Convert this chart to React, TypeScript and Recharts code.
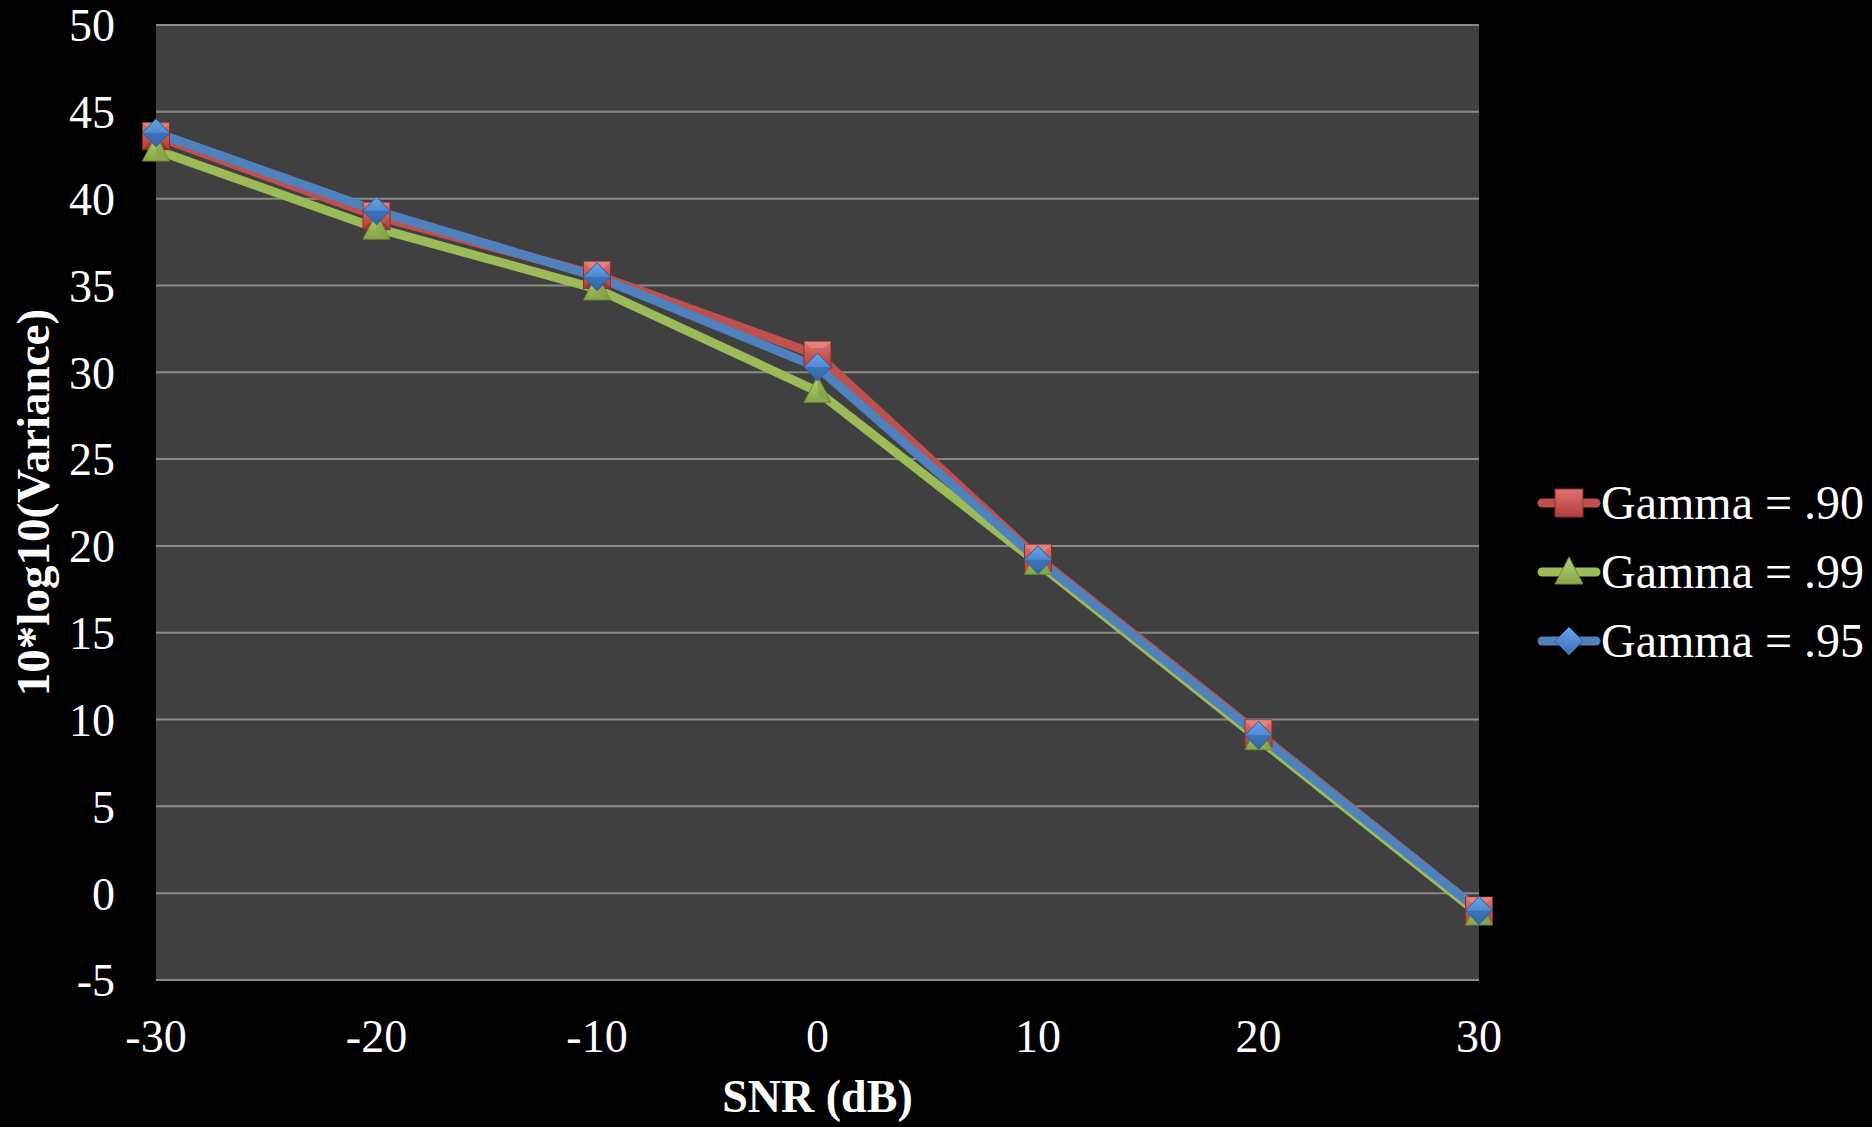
import React from 'react';
import { LineChart, Line, XAxis, YAxis, CartesianGrid, Label } from 'recharts';

const snr = [-30, -20, -10, 0, 10, 20, 30];
const gamma90 = [43.6, 39.0, 35.6, 31.0, 19.3, 9.2, -1.0];
const gamma99 = [42.8, 38.3, 34.8, 28.9, 19.0, 8.9, -1.2];
const gamma95 = [43.8, 39.3, 35.5, 30.3, 19.2, 9.1, -1.0];
const xTicks = [-30, -20, -10, 0, 10, 20, 30];
const yTicks = [-5, 0, 5, 10, 15, 20, 25, 30, 35, 40, 45, 50];

const data = snr.map((x, i) => ({
  snr: x,
  g90: gamma90[i],
  g99: gamma99[i],
  g95: gamma95[i],
}));

const FONT = '"Liberation Serif", "Times New Roman", serif';
const RED = '#c0504d';
const GREEN = '#9bbb59';
const BLUE = '#4f81bd';

type Shape = 'square' | 'triangle' | 'diamond';

const Marker = ({ cx, cy, shape }: { cx: number; cy: number; shape: Shape }) => {
  const s = 13.5;
  if (shape === 'square') {
    return (
      <g>
        <rect x={cx - s} y={cy - s} width={2 * s} height={2 * s} fill="url(#gRed)" stroke="#8c2f2c" strokeWidth={1} />
        <polygon points={`${cx - s},${cy - s} ${cx + s},${cy - s} ${cx + 7},${cy - 7} ${cx - 7},${cy - 7}`} fill="#e58a88" opacity={0.7} />
        <polygon points={`${cx - s},${cy + s} ${cx + s},${cy + s} ${cx + 7},${cy + 7} ${cx - 7},${cy + 7}`} fill="#8e2a28" opacity={0.6} />
      </g>
    );
  }
  if (shape === 'triangle') {
    return (
      <g>
        <polygon points={`${cx},${cy - 15} ${cx + s},${cy + 11} ${cx - s},${cy + 11}`} fill="url(#gGreen)" stroke="#6f8a3a" strokeWidth={1} />
        <polygon points={`${cx},${cy - 15} ${cx + s},${cy + 11} ${cx},${cy + 4}`} fill="#7d9a43" opacity={0.5} />
      </g>
    );
  }
  return (
    <g>
      <polygon points={`${cx},${cy - 14} ${cx + s},${cy} ${cx},${cy + 14} ${cx - s},${cy}`} fill="url(#gBlue)" stroke="#2f5d96" strokeWidth={1} />
      <polygon points={`${cx - s},${cy} ${cx + s},${cy} ${cx},${cy + 14}`} fill="#2e62a6" opacity={0.55} />
    </g>
  );
};

const makeDot = (shape: Shape) => (props: any) => {
  const { cx, cy, index } = props;
  if (cx == null || cy == null) return <g key={`${shape}-${index}`} />;
  return <Marker key={`${shape}-${index}`} cx={cx} cy={cy} shape={shape} />;
};

const legendItems: { name: string; color: string; shape: Shape }[] = [
  { name: 'Gamma = .90', color: RED, shape: 'square' },
  { name: 'Gamma = .99', color: GREEN, shape: 'triangle' },
  { name: 'Gamma = .95', color: BLUE, shape: 'diamond' },
];

// legend lives outside the chart so it doesn't eat into the plot area
const ChartLegend = () => (
  <div style={{ position: 'absolute', left: 1537, top: 468, fontFamily: FONT, color: '#fff', fontSize: 48 }}>
    {legendItems.map((item) => (
      <div key={item.name} style={{ display: 'flex', alignItems: 'center', height: 69 }}>
        <svg width={64} height={40} style={{ overflow: 'visible' }}>
          <defs>
            <linearGradient id={`lg-${item.shape}`} x1="0" y1="0" x2="0" y2="1">
              <stop offset="0%" stopColor={item.shape === 'square' ? '#e0716e' : item.shape === 'triangle' ? '#b5d370' : '#66a3ea'} />
              <stop offset="100%" stopColor={item.shape === 'square' ? '#b23d3a' : item.shape === 'triangle' ? '#86a546' : '#3a6fb5'} />
            </linearGradient>
          </defs>
          <line x1={5} y1={20} x2={59} y2={20} stroke={item.color} strokeWidth={9} strokeLinecap="round" />
          {item.shape === 'square' && (
            <rect x={18} y={6} width={28} height={28} fill="url(#lg-square)" stroke="#8c2f2c" />
          )}
          {item.shape === 'triangle' && (
            <polygon points="32,5 46,32 18,32" fill="url(#lg-triangle)" stroke="#6f8a3a" />
          )}
          {item.shape === 'diamond' && (
            <polygon points="32,6 46,20 32,34 18,20" fill="url(#lg-diamond)" stroke="#2f5d96" />
          )}
        </svg>
        <span style={{ lineHeight: 1 }}>{item.name}</span>
      </div>
    ))}
  </div>
);

export default function App() {
  return (
    <div style={{ position: 'absolute', left: 0, top: 0, width: 1872, height: 1127, background: '#000' }}>
      <LineChart
        width={1872}
        height={1127}
        data={data}
        margin={{ top: 25, right: 393, left: 0, bottom: 0 }}
        style={{ fontFamily: FONT }}
      >
        <defs>
          <linearGradient id="gRed" x1="0" y1="0" x2="0" y2="1">
            <stop offset="0%" stopColor="#e0716e" />
            <stop offset="100%" stopColor="#b23d3a" />
          </linearGradient>
          <linearGradient id="gGreen" x1="0" y1="0" x2="0" y2="1">
            <stop offset="0%" stopColor="#b5d370" />
            <stop offset="100%" stopColor="#86a546" />
          </linearGradient>
          <linearGradient id="gBlue" x1="0" y1="0" x2="0" y2="1">
            <stop offset="0%" stopColor="#66a3ea" />
            <stop offset="100%" stopColor="#3a6fb5" />
          </linearGradient>
        </defs>
        <CartesianGrid vertical={false} stroke="#8a8a8a" strokeWidth={2} fill="#404040" />
        <XAxis
          dataKey="snr"
          type="number"
          domain={[-30, 30]}
          ticks={xTicks}
          height={147}
          axisLine={false}
          tickLine={false}
          tickSize={0}
          tickMargin={39}
          tick={{ fill: '#fff', fontSize: 46, fontFamily: FONT }}
          interval={0}
        >
          <Label
            content={({ viewBox }: any) => (
              <text
                x={viewBox.x + viewBox.width / 2}
                y={viewBox.y + 132}
                textAnchor="middle"
                fill="#fff"
                fontSize={46}
                fontWeight="bold"
                fontFamily={FONT}
              >
                SNR (dB)
              </text>
            )}
          />
        </XAxis>
        <YAxis
          type="number"
          domain={[-5, 50]}
          ticks={yTicks}
          width={156}
          axisLine={false}
          tickLine={false}
          tickSize={0}
          tickMargin={41}
          tick={{ fill: '#fff', fontSize: 46, fontFamily: FONT }}
          interval={0}
        >
          <Label
            content={({ viewBox }: any) => {
              const cx = viewBox.x + 33;
              const cy = viewBox.y + viewBox.height / 2;
              return (
                <text
                  x={cx}
                  y={cy}
                  transform={`rotate(-90 ${cx} ${cy})`}
                  textAnchor="middle"
                  dominantBaseline="central"
                  fill="#fff"
                  fontSize={47}
                  fontWeight="bold"
                  fontFamily={FONT}
                >
                  10*log10(Variance)
                </text>
              );
            }}
          />
        </YAxis>
        <Line
          dataKey="g90"
          name="Gamma = .90"
          stroke={RED}
          strokeWidth={9}
          dot={makeDot('square')}
          isAnimationActive={false}
        />
        <Line
          dataKey="g99"
          name="Gamma = .99"
          stroke={GREEN}
          strokeWidth={9}
          dot={makeDot('triangle')}
          isAnimationActive={false}
        />
        <Line
          dataKey="g95"
          name="Gamma = .95"
          stroke={BLUE}
          strokeWidth={9}
          dot={makeDot('diamond')}
          isAnimationActive={false}
        />
      </LineChart>
      <ChartLegend />
    </div>
  );
}
